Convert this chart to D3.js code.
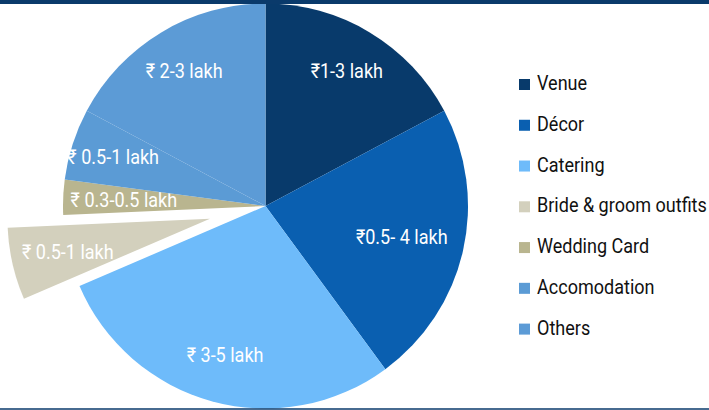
<!DOCTYPE html>
<html>
<head>
<meta charset="utf-8">
<script src="https://cdn.jsdelivr.net/npm/d3@7"></script>
<style>
  body { margin: 0; background: #fff; }
  svg { display: block; font-family: "Roboto", "Liberation Sans", sans-serif; }
  .label { fill: #fff; font-size: 20.5px; }
  .legend text { fill: #111; font-size: 20.5px; }
</style>
</head>
<body>
<svg class="chart"></svg>
<script>
// wedding budget split, shares (percent)
var categories = ["Venue", "Décor", "Catering", "Bride & groom outfits", "Wedding Card", "Accomodation", "Others"];
var shares = [17.2, 22.7, 28.6, 5.75, 2.8, 5.7, 17.2];
var costLabels = ["₹1-3 lakh", "₹0.5- 4 lakh", "₹ 3-5 lakh", "₹ 0.5-1 lakh", "₹ 0.3-0.5 lakh", "₹ 0.5-1 lakh", "₹ 2-3 lakh"];
var exploded = ["Bride & groom outfits"];

var colours = ["#083a6b", "#0a5fb0", "#6ebbfa", "#d3d0bd", "#b9b58f", "#5b9bd5", "#5c9bd6"];
// how far out each label sits, as share of the radius
var labelRatio = [0.78, 0.69, 0.76, 0.72, 0.70, 0.79, 0.78];

var W = 709, H = 410;
var cx = 265.5, cy = 206, radius = 202.5;
var explodeBy = 57;
var narrow = "scale(0.88,1)";   // squeeze text to look like a narrow face

var svg = d3.select(".chart")
	.attr("width", W)
	.attr("height", H);

var data = categories.map(function(c, i) {
	return {name: c, value: shares[i], label: costLabels[i], idx: i};
});

var pie = d3.pie()
	.sort(null)
	.value(function(d) { return d.value; });

var arc = d3.arc()
	.innerRadius(0)
	.outerRadius(radius);

var colour = d3.scaleOrdinal()
	.domain(categories)
	.range(colours);

var arcs = pie(data);

function offset(d) {
	if (exploded.indexOf(d.data.name) < 0) return [0, 0];
	var a = (d.startAngle + d.endAngle) / 2;
	return [Math.sin(a) * explodeBy, -Math.cos(a) * explodeBy];
}

var chart = svg.append("g")
	.attr("transform", "translate(" + cx + "," + cy + ")");

var slice = chart.selectAll(".slice")
	.data(arcs)
  .enter().append("g")
	.attr("class", "slice")
	.attr("transform", function(d) {
		var o = offset(d);
		return "translate(" + o[0] + "," + o[1] + ")";
	});

slice.append("path")
	.attr("d", arc)
	.attr("fill", function(d) { return colour(d.data.name); });

slice.append("text")
	.attr("class", "label")
	.attr("text-anchor", "middle")
	.attr("dy", "0.35em")
	.attr("transform", function(d) {
		var r = radius * labelRatio[d.data.idx];
		var c = d3.arc().innerRadius(r).outerRadius(r).centroid(d);
		return "translate(" + c[0] + "," + c[1] + ") " + narrow;
	})
	.text(function(d) { return d.data.label; });

// header strip and bottom rule
svg.append("rect")
	.attr("x", 0).attr("y", 0)
	.attr("width", W).attr("height", 4)
	.attr("fill", "#0a3a6b");

svg.append("line")
	.attr("x1", 0).attr("x2", W)
	.attr("y1", 409).attr("y2", 409)
	.attr("stroke", "#0a3a6b")
	.attr("stroke-width", 1.5);

// legend
var ly = d3.scalePoint()
	.domain(categories)
	.range([90, 334.6]);

var legend = svg.append("g")
	.attr("class", "legend")
	.selectAll("g")
	.data(categories)
  .enter().append("g")
	.attr("transform", function(d) { return "translate(519," + ly(d) + ")"; });

legend.append("rect")
	.attr("x", 0)
	.attr("y", -11)
	.attr("width", 11)
	.attr("height", 11)
	.attr("fill", function(d) { return colour(d); });

legend.append("text")
	.attr("transform", "translate(18,0) " + narrow)
	.text(function(d) { return d; });
</script>
</body>
</html>
